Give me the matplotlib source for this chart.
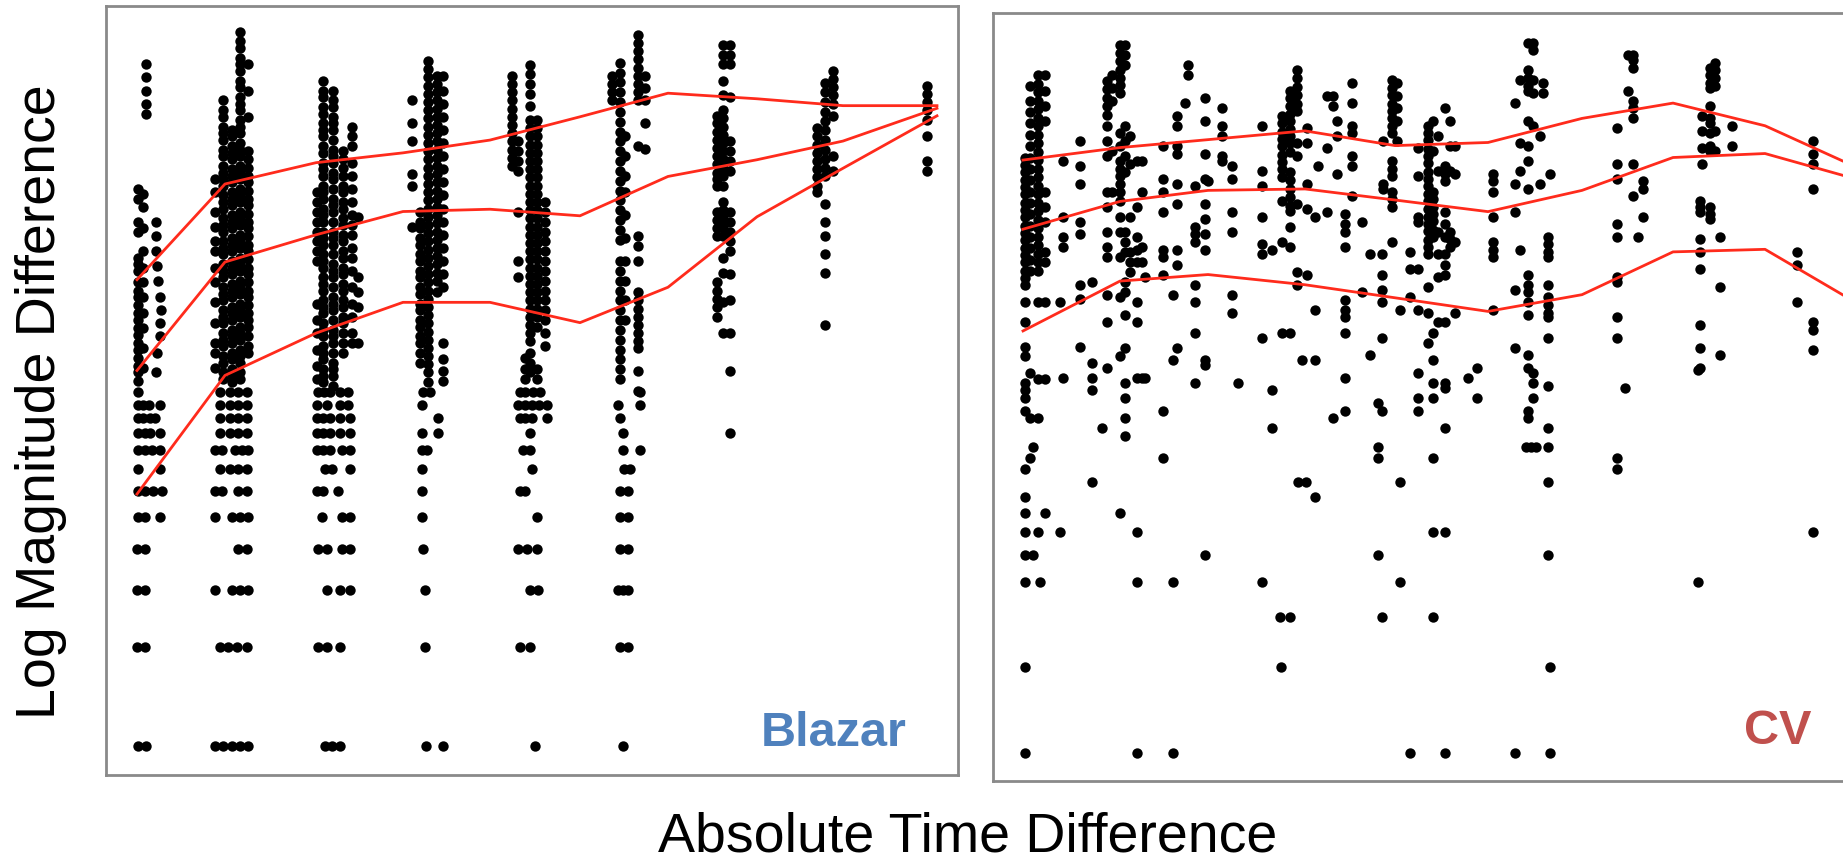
import numpy as np
import matplotlib
matplotlib.use('Agg')
import matplotlib.pyplot as plt

plt.rcParams['font.family'] = ['Liberation Sans', 'DejaVu Sans']

# y values are log10 of the magnitude difference; x is the time difference (arbitrary units)
# quantised rows: (difference in 0.01 mag, x positions of the points on that row)
blazar_rows = [
    (1, [0.32, 0.40, 1.09, 1.17, 1.26, 1.34, 1.42, 2.19, 2.26, 2.34, 3.20, 3.37, 4.29, 5.17]),
    (2, [0.31, 0.39, 1.14, 1.22, 1.31, 1.41, 2.12, 2.21, 2.34, 3.19, 4.14, 4.24, 5.14, 5.22]),
    (3, [0.31, 0.39, 1.09, 1.26, 1.34, 1.42, 2.21, 2.34, 2.44, 3.19, 4.24, 4.32, 5.12, 5.17, 5.22]),
    (4, [0.31, 0.39, 1.32, 1.41, 2.12, 2.21, 2.36, 2.44, 3.17, 4.12, 4.21, 4.31, 5.14, 5.22]),
    (5, [0.32, 0.39, 0.54, 1.09, 1.26, 1.34, 1.42, 2.16, 2.36, 2.44, 3.16, 4.31, 5.14, 5.22]),
    (6, [0.32, 0.39, 0.47, 0.56, 1.09, 1.16, 1.32, 1.41, 2.11, 2.17, 2.32, 3.16, 4.14, 4.19, 5.14, 5.22]),
    (7, [0.32, 0.54, 1.14, 1.24, 1.32, 1.41, 2.19, 2.26, 2.44, 3.16, 4.26, 5.18, 5.24]),
    (8, [0.32, 0.39, 0.46, 0.54, 1.09, 1.16, 1.29, 1.36, 1.42, 2.11, 2.17, 2.24, 2.36, 2.44,
         3.16, 3.21, 4.17, 4.24, 5.17, 5.34]),
    (9, [0.32, 0.39, 0.44, 0.54, 1.14, 1.24, 1.32, 1.41, 2.11, 2.17, 2.24, 2.34, 2.44, 3.16,
         3.32, 4.24, 5.17]),
    (10, [0.32, 0.37, 0.44, 0.49, 1.14, 1.24, 1.32, 1.41, 2.11, 2.17, 2.24, 2.34, 2.44, 3.32,
          4.14, 4.19, 4.26, 4.41, 5.14]),
    (11, [0.32, 0.37, 0.43, 0.54, 1.14, 1.24, 1.32, 1.41, 2.11, 2.21, 2.34, 2.42, 3.16, 4.12,
          4.19, 4.26, 4.33, 4.41, 5.12, 5.34]),
    (12, [0.32, 1.14, 1.24, 1.32, 1.41, 2.12, 2.18, 2.24, 2.34, 2.42, 3.17, 3.24, 4.14, 4.19,
          4.27, 4.34, 5.34]),
]

# upper part: (x, log10 differences of the points stacked at that x)
blazar_stacks = [
    (0.40, [0.08, 0.04, 0.0, -0.04, -0.07]),
    (0.32, [-0.30, -0.33, -0.40, -0.43, -0.51, -0.53, -0.55, -0.585, -0.61, -0.63, -0.655, -0.68,
            -0.70, -0.725, -0.745, -0.77, -0.79, -0.815, -0.84, -0.86, -0.885]),
    (0.37, [-0.315, -0.355, -0.42, -0.49, -0.54, -0.585, -0.63, -0.68, -0.725, -0.785, -0.845]),
    (0.50, [-0.40, -0.445, -0.49, -0.86]),
    (0.51, [-0.535, -0.80]),
    (0.52, [-0.58]),
    (0.54, [-0.63, -0.71, -0.75]),
    (0.55, [-0.67]),
    (1.09, [-0.27, -0.31, -0.37, -0.415, -0.46, -0.49, -0.54, -0.585, -0.645, -0.71, -0.77, -0.80, -0.845]),
    (1.17, [-0.03, -0.06, -0.08, -0.11, -0.13, -0.15, -0.18, -0.20, -0.23, -0.25, -0.27, -0.29,
            -0.32, -0.34, -0.36, -0.39, -0.41, -0.43, -0.46, -0.48, -0.50, -0.53, -0.55, -0.57,
            -0.60, -0.62, -0.64, -0.67, -0.69, -0.71, -0.74, -0.76, -0.78, -0.81, -0.83, -0.86, -0.88]),
    (1.26, [-0.12, -0.14, -0.17, -0.19, -0.21, -0.24, -0.26, -0.28, -0.31, -0.33, -0.35, -0.38,
            -0.40, -0.42, -0.45, -0.47, -0.49, -0.52, -0.54, -0.56, -0.59, -0.61, -0.63, -0.66,
            -0.68, -0.70, -0.73, -0.75, -0.77, -0.80, -0.82, -0.85, -0.87, -0.89]),
    (1.34, [0.18, 0.15, 0.13, 0.10, 0.08, 0.06, 0.03, 0.01, -0.02, -0.04, -0.06, -0.09, -0.11,
            -0.13, -0.16, -0.18, -0.20, -0.23, -0.25, -0.27, -0.30, -0.32, -0.34, -0.37, -0.39,
            -0.41, -0.44, -0.46, -0.48, -0.51, -0.53, -0.55, -0.58, -0.60, -0.62, -0.65, -0.67,
            -0.69, -0.72, -0.74, -0.76, -0.79, -0.81, -0.83, -0.86, -0.88]),
    (1.42, [0.08, 0.0, -0.08, -0.185, -0.21, -0.235, -0.26, -0.28, -0.305, -0.33, -0.35, -0.375,
            -0.40, -0.42, -0.445, -0.47, -0.49, -0.515, -0.54, -0.56, -0.585, -0.61, -0.63,
            -0.655, -0.68, -0.70, -0.72, -0.75, -0.78, -0.80]),
    (2.17, [0.03, 0.0, -0.02, -0.05, -0.07, -0.10, -0.12, -0.14, -0.17, -0.19, -0.22, -0.24,
            -0.26, -0.29, -0.31, -0.33, -0.36, -0.38, -0.40, -0.43, -0.45, -0.47, -0.50, -0.52,
            -0.54, -0.57, -0.59, -0.61, -0.64, -0.66, -0.68, -0.71, -0.73, -0.75, -0.78, -0.80,
            -0.82, -0.85, -0.87, -0.89]),
    (2.27, [0.0, -0.03, -0.05, -0.08, -0.10, -0.12, -0.15, -0.18, -0.20, -0.22, -0.25, -0.27,
            -0.30, -0.33, -0.35, -0.37, -0.40, -0.43, -0.45, -0.47, -0.50, -0.53, -0.55, -0.57,
            -0.60, -0.63, -0.65, -0.67, -0.70, -0.73, -0.75, -0.77, -0.80, -0.83, -0.85, -0.87, -0.90]),
    (2.11, [-0.31, -0.34, -0.37, -0.40, -0.43, -0.46, -0.49, -0.52, -0.65, -0.70, -0.74, -0.79, -0.84, -0.88]),
    (2.37, [-0.185, -0.21, -0.235, -0.26, -0.29, -0.31, -0.34, -0.36, -0.39, -0.41, -0.44, -0.46,
            -0.49, -0.51, -0.54, -0.56, -0.59, -0.61, -0.64, -0.66, -0.69, -0.71, -0.74, -0.77, -0.80]),
    (2.46, [-0.11, -0.14, -0.17, -0.22, -0.26, -0.30, -0.34, -0.38, -0.41, -0.44, -0.48, -0.51,
            -0.55, -0.60, -0.65, -0.69, -0.74, -0.77]),
    (2.52, [-0.385, -0.57, -0.615, -0.66, -0.77]),
    (3.06, [-0.03, -0.10, -0.155, -0.255, -0.29, -0.415]),
    (3.14, [-0.37, -0.40, -0.42, -0.45, -0.47, -0.50, -0.52, -0.55, -0.57, -0.60, -0.62, -0.65,
            -0.67, -0.70, -0.72, -0.75, -0.77, -0.80, -0.83]),
    (3.22, [0.09, 0.065, 0.04, 0.015, -0.01, -0.035, -0.06, -0.085, -0.11, -0.135, -0.16, -0.185,
            -0.21, -0.235, -0.26, -0.285, -0.31, -0.335, -0.36, -0.385, -0.41, -0.435, -0.46,
            -0.485, -0.51, -0.535, -0.56, -0.585, -0.61, -0.635, -0.66, -0.685, -0.71, -0.735,
            -0.76, -0.785, -0.81, -0.835, -0.86, -0.89]),
    (3.31, [0.045, 0.02, -0.005, -0.03, -0.055, -0.08, -0.105, -0.13, -0.155, -0.18, -0.205,
            -0.23, -0.255, -0.28, -0.305, -0.33, -0.355, -0.38, -0.405, -0.43, -0.455, -0.48,
            -0.505, -0.53, -0.555, -0.58, -0.615]),
    (3.37, [0.045, 0.0, -0.04, -0.08, -0.12, -0.16, -0.20, -0.24, -0.28, -0.32, -0.36, -0.40,
            -0.44, -0.48, -0.52, -0.56, -0.60, -0.77, -0.82, -0.855, -0.885]),
    (4.06, [0.045, 0.02, -0.005, -0.03, -0.055, -0.08, -0.105, -0.13, -0.155, -0.18, -0.205, -0.23]),
    (4.12, [-0.155, -0.185, -0.215, -0.245, -0.37, -0.52, -0.57]),
    (4.24, [0.077, 0.05, 0.02, -0.01, -0.046, -0.09, -0.115, -0.14, -0.165, -0.19, -0.215, -0.24,
            -0.265, -0.29, -0.315, -0.34, -0.365, -0.39, -0.415, -0.44, -0.465, -0.49, -0.515,
            -0.54, -0.565, -0.59, -0.615, -0.64, -0.665, -0.69, -0.715, -0.74, -0.765, -0.80,
            -0.83, -0.86]),
    (4.31, [-0.09, -0.115, -0.14, -0.165, -0.19, -0.215, -0.24, -0.265, -0.29, -0.315, -0.34,
            -0.365, -0.39, -0.415, -0.44, -0.465, -0.49, -0.515, -0.54, -0.565, -0.59, -0.615,
            -0.64, -0.665, -0.69, -0.72, -0.85, -0.88]),
    (4.39, [-0.34, -0.37, -0.40, -0.43, -0.46, -0.49, -0.52, -0.55, -0.58, -0.61, -0.64, -0.67,
            -0.70, -0.74, -0.78]),
    (4.19, [-0.815, -0.85, -0.88]),
    (5.06, [0.046, 0.02, -0.005, -0.03]),
    (5.14, [0.085, 0.055, 0.025, -0.005, -0.035, -0.065, -0.095, -0.125, -0.155, -0.185, -0.215,
            -0.245, -0.275, -0.305, -0.335, -0.365, -0.395, -0.425, -0.455, -0.52, -0.55, -0.58,
            -0.61, -0.64, -0.67, -0.70, -0.73, -0.76, -0.79, -0.82, -0.85, -0.88]),
    (5.19, [-0.14, -0.20, -0.26, -0.31, -0.38, -0.45, -0.52, -0.58, -0.64, -0.70]),
    (5.32, [0.17, 0.145, 0.12, 0.095, 0.07, 0.045, 0.02, -0.005, -0.03, -0.17, -0.445, -0.475,
            -0.52, -0.615, -0.64, -0.665, -0.69, -0.715, -0.74, -0.765, -0.785, -0.855, -0.915]),
    (5.39, [0.046, 0.008, -0.03, -0.10, -0.177]),
    (6.11, [-0.077, -0.10, -0.125, -0.15, -0.175, -0.20, -0.225, -0.25, -0.27, -0.29, -0.37,
            -0.395, -0.42, -0.445, -0.585, -0.61, -0.635, -0.66, -0.69]),
    (6.17, [0.14, 0.11, 0.08, 0.03, -0.015, -0.06, -0.085, -0.11, -0.135, -0.16, -0.185, -0.21,
            -0.235, -0.26, -0.29, -0.34, -0.365, -0.39, -0.415, -0.445, -0.51, -0.555, -0.645, -0.74]),
    (6.24, [0.14, 0.11, 0.08, -0.02, -0.155, -0.185, -0.215, -0.245, -0.37, -0.40, -0.43, -0.46,
            -0.49, -0.56, -0.64, -0.74, -0.855, -1.046]),
    (7.11, [-0.115, -0.14, -0.165, -0.19, -0.215, -0.24, -0.265, -0.29, -0.31]),
    (7.19, [0.023, -0.005, -0.035, -0.065, -0.092, -0.12, -0.15, -0.18, -0.21, -0.235, -0.26,
            -0.345, -0.40, -0.445, -0.50, -0.555, -0.715]),
    (7.27, [0.06, 0.035, 0.01, -0.015, -0.04, -0.077, -0.20, -0.245]),
    (8.21, [0.015, -0.01, -0.035, -0.06, -0.09, -0.14, -0.215, -0.245]),
]

blazar_curve_x = [0.31, 1.19, 2.10, 2.97, 3.84, 4.74, 5.62, 6.51, 7.37, 8.31]
blazar_upper = [-0.577, -0.285, -0.22, -0.19, -0.151, -0.08, -0.008, -0.025, -0.046, -0.046]
blazar_median = [-0.854, -0.523, -0.44, -0.369, -0.362, -0.382, -0.262, -0.211, -0.154, -0.054]
blazar_lower = [-1.231, -0.869, -0.74, -0.646, -0.646, -0.708, -0.60, -0.385, -0.237, -0.077]

cv_rows = [
    (1, [0.32, 1.44, 1.80, 4.17, 4.52, 5.22, 5.57]),
    (2, [0.32, 2.88, 5.57]),
    (3, [2.87, 2.97, 3.89, 4.40]),
    (4, [0.32, 0.47, 1.44, 1.80, 2.69, 4.07, 7.05]),
    (5, [0.32, 0.40, 2.12, 3.85, 5.55]),
    (6, [0.32, 0.45, 0.67, 1.44, 4.40, 4.52, 8.20]),
    (7, [0.32, 0.52, 1.27]),
    (8, [0.32, 3.22]),
    (9, [0.99, 3.05, 3.13, 4.07, 5.55]),
    (10, [0.32, 6.24]),
    (11, [0.37, 1.70, 3.85, 4.40, 6.24]),
    (12, [0.40, 3.85, 5.33, 5.38, 5.43, 5.55]),
]

cv_stacks = [
    (0.32, [0.10, 0.075, 0.05, 0.02, -0.005, -0.03, -0.06, -0.085, -0.11, -0.14, -0.165, -0.19,
            -0.22, -0.245, -0.27, -0.30, -0.325, -0.35, -0.41, -0.48, -0.57, -0.60, -0.695,
            -0.72, -0.75, -0.795]),
    (0.37, [0.354, 0.30, 0.26, 0.22, 0.18, 0.14, 0.10, 0.06, 0.02, -0.02, -0.06, -0.10, -0.14,
            -0.18, -0.22, -0.26, -0.30, -0.66, -0.82]),
    (0.45, [0.39, 0.36, 0.33, 0.30, 0.27, 0.24, 0.21, 0.18, 0.15, 0.12, 0.09, 0.06, 0.03, 0.0,
            -0.03, -0.06, -0.09, -0.12, -0.15, -0.18, -0.21, -0.24, -0.27, -0.30, -0.41, -0.68, -0.82]),
    (0.52, [0.39, 0.335, 0.28, 0.23, -0.02, -0.073, -0.126, -0.233, -0.27, -0.41, -0.68]),
    (0.70, [0.087, -0.11, -0.18, -0.215, -0.678]),
    (0.67, [-0.41]),
    (0.87, [0.158, 0.07, 0.007, -0.126, -0.17, -0.35, -0.40, -0.57]),
    (0.99, [-0.34, -0.625, -0.678, -0.72]),
    (1.09, [-0.856]),
    (1.14, [0.37, 0.34, 0.31, 0.28, 0.25, 0.212, 0.158, 0.105, -0.02, -0.073, -0.162, -0.215,
            -0.25, -0.384, -0.482, -0.642]),
    (1.19, [0.39, 0.345, 0.30, 0.123, -0.02]),
    (1.27, [0.496, 0.47, 0.44, 0.41, 0.38, 0.355, 0.327, 0.185, 0.141, 0.087, 0.06, 0.034, 0.007,
            -0.02, -0.055, -0.11, -0.162, -0.25, -0.393, -0.60]),
    (1.32, [0.496, 0.461, 0.425, 0.212, 0.158, 0.105, 0.05, -0.162, -0.197, -0.233, -0.34,
            -0.375, -0.455, -0.571, -0.696, -0.75, -0.82, -0.883]),
    (1.37, [0.176, 0.078, -0.11, -0.233, -0.27, -0.304]),
    (1.44, [0.087, -0.073, -0.18, -0.225, -0.27, -0.411, -0.482, -0.678]),
    (1.49, [0.087, -0.02, -0.215, -0.27, -0.678]),
    (1.52, [-0.322, -0.678]),
    (1.70, [0.141, 0.025, -0.02, -0.091, -0.225, -0.25, -0.313, -0.794]),
    (1.80, [-0.384, -0.616]),
    (1.84, [0.247, 0.212, 0.141, 0.114, 0.007, -0.064, -0.225, -0.278, -0.571]),
    (1.92, [0.292]),
    (1.95, [0.425, 0.39]),
    (2.02, [0.0, -0.144, -0.17, -0.197, -0.349, -0.411, -0.518, -0.696]),
    (2.12, [0.31, 0.23, 0.114, 0.025, -0.064, -0.117, -0.17, -0.225, -0.616, -0.633]),
    (2.15, [0.016]),
    (2.29, [0.274, 0.212, 0.176, 0.105, 0.087]),
    (2.39, [0.069, 0.025, -0.091, -0.162, -0.384, -0.447]),
    (2.45, [-0.696]),
    (2.69, [0.212, 0.052, 0.0, -0.109, -0.206, -0.242, -0.536]),
    (2.79, [-0.225, -0.722, -0.856]),
    (2.89, [0.247, 0.22, 0.19, 0.165, 0.14, 0.11, 0.085, 0.06, 0.03, -0.055, -0.197, -0.518]),
    (2.97, [0.336, 0.31, 0.28, 0.255, 0.23, 0.20, 0.175, 0.15, 0.12, 0.05, 0.02, -0.01, -0.04,
            -0.07, -0.09, -0.144, -0.215, -0.518]),
    (3.04, [0.407, 0.38, 0.35, 0.32, 0.29, 0.265, 0.15, 0.105, -0.064, -0.304, -0.349]),
    (3.09, [-0.616]),
    (3.14, [0.203, 0.15, 0.007, -0.082, -0.313]),
    (3.22, [-0.109, -0.438, -0.616]),
    (3.25, [0.069]),
    (3.34, [0.318, 0.132, -0.091]),
    (3.40, [0.318, 0.283, -0.82]),
    (3.44, [0.23, 0.176, 0.043]),
    (3.52, [-0.10, -0.135, -0.162, -0.215, -0.402, -0.438, -0.464, -0.518, -0.678, -0.794]),
    (3.59, [0.363, 0.292, 0.212, 0.185, 0.105, 0.069, -0.037]),
    (3.69, [-0.126, -0.375]),
    (3.77, [-0.242, -0.598]),
    (3.85, [-0.767]),
    (3.89, [-0.242, -0.313, -0.367, -0.411, -0.536, -0.794]),
    (3.90, [0.158, 0.007, -0.011]),
    (3.99, [0.372, 0.345, 0.32, 0.29, 0.265, 0.24, 0.21, 0.185, 0.087, 0.06, 0.034, -0.02,
            -0.046, -0.073, -0.197]),
    (4.04, [0.363, 0.318, 0.274, 0.23, 0.158]),
    (4.07, [-0.438]),
    (4.17, [-0.233, -0.295, -0.393]),
    (4.25, [0.132, 0.034, -0.109, -0.126, -0.295, -0.438, -0.66, -0.75, -0.794]),
    (4.35, [0.212, 0.185, 0.16, 0.13, 0.105, 0.08, 0.05, 0.025, 0.0, -0.03, -0.055, -0.08,
            -0.11, -0.135, -0.16, -0.19, -0.215, -0.242, -0.358, -0.447, -0.553]),
    (4.40, [0.23, 0.123, -0.02, -0.045, -0.075, -0.10, -0.125, -0.155, -0.18, -0.518, -0.616,
            -0.696, -0.75]),
    (4.45, [0.176, 0.052, -0.162, -0.242, -0.322, -0.482]),
    (4.52, [0.274, 0.069, 0.043, 0.016, -0.091, -0.135, -0.18, -0.242, -0.278, -0.313, -0.482,
            -0.696, -0.714, -0.856]),
    (4.57, [0.23, 0.141, 0.052, -0.162, -0.188, -0.215]),
    (4.62, [0.141, 0.043, -0.197, -0.447]),
    (4.75, [-0.678]),
    (4.84, [-0.642, -0.75]),
    (5.00, [0.043, 0.016, -0.02, -0.109, -0.197, -0.225, -0.25, -0.438]),
    (5.22, [0.292, 0.007, -0.091, -0.367, -0.571]),
    (5.27, [0.372, 0.15, 0.052, -0.225]),
    (5.35, [0.505, 0.407, 0.381, 0.354, 0.336, 0.23, 0.141, 0.087, -0.011, -0.313, -0.349,
            -0.375, -0.411, -0.455, -0.598, -0.642, -0.794, -0.82]),
    (5.40, [0.505, 0.479, 0.372, 0.327, 0.212, -0.66, -0.696, -0.75]),
    (5.47, [0.176, 0.007]),
    (5.50, [0.363, 0.327]),
    (5.55, [-0.18, -0.206, -0.233, -0.25, -0.349, -0.393, -0.42, -0.447, -0.464, -0.536, -0.705, -0.856]),
    (5.57, [0.043]),
    (6.24, [0.203, 0.078, 0.025, -0.135, -0.18, -0.322, -0.34, -0.464, -0.536]),
    (6.32, [-0.714]),
    (6.35, [0.461, 0.336]),
    (6.40, [0.461, 0.443, 0.416, 0.30, 0.274, 0.238, 0.078, -0.037]),
    (6.45, [-0.18]),
    (6.50, [0.016, -0.011, -0.109]),
    (7.05, [-0.651]),
    (7.07, [-0.055, -0.073, -0.091, -0.188, -0.233, -0.295, -0.49, -0.571, -0.642]),
    (7.09, [0.247, 0.194, 0.132, 0.078]),
    (7.17, [0.416, 0.39, 0.363, 0.345, 0.283, 0.238, 0.221, 0.185, 0.141, 0.123, -0.073, -0.10, -0.117]),
    (7.22, [0.434, 0.407, 0.381, 0.354, 0.194, 0.123]),
    (7.27, [-0.18, -0.358, -0.598]),
    (7.39, [0.212, 0.141]),
    (8.04, [-0.233, -0.278, -0.411]),
    (8.20, [0.158, 0.114, 0.078, -0.011, -0.482, -0.509, -0.58]),
]

cv_curve_x = [0.30, 1.27, 2.15, 3.12, 4.02, 4.95, 5.89, 6.80, 7.72, 8.62]
cv_upper = [0.091, 0.135, 0.163, 0.194, 0.142, 0.153, 0.238, 0.292, 0.212, 0.068]
cv_median = [-0.153, -0.055, -0.016, -0.011, -0.05, -0.091, -0.016, 0.10, 0.114, 0.025]
cv_lower = [-0.512, -0.336, -0.313, -0.349, -0.395, -0.443, -0.384, -0.233, -0.224, -0.41]


def collect(rows, stacks):
    xs, ys = [], []
    for n, row_x in rows:
        for x in row_x:
            xs.append(x)
            ys.append(np.log10(n / 100.0))
    for x, col_y in stacks:
        for y in col_y:
            xs.append(x)
            ys.append(y)
    return xs, ys


fig = plt.figure(figsize=(18.43, 8.65), dpi=100)
ax1 = fig.add_axes([0.0575, 0.10405, 0.4623, 0.8890])
ax2 = fig.add_axes([0.5388, 0.09711, 0.4623, 0.8879])

panels = [
    (ax1, blazar_rows, blazar_stacks, blazar_curve_x, [blazar_upper, blazar_median, blazar_lower],
     (-2.088, 0.258), 'Blazar', '#4f81bd', (0.940, 0.038)),
    (ax2, cv_rows, cv_stacks, cv_curve_x, [cv_upper, cv_median, cv_lower],
     (-2.10, 0.61), 'CV', '#c0504d', (0.961, 0.048)),
]

for ax, rows, stacks, cx, curves, ylim, name, color, pos in panels:
    xs, ys = collect(rows, stacks)
    ax.scatter(xs, ys, s=56, color='black', linewidths=0, zorder=2)
    for cy in curves:
        ax.plot(cx, cy, color='#ff2b1c', lw=2.0, zorder=3)
    ax.set_xlim(0, 8.52)
    ax.set_ylim(*ylim)
    ax.set_xticks([])
    ax.set_yticks([])
    for sp in ax.spines.values():
        sp.set_color('#8a8a8a')
        sp.set_linewidth(2)
    ax.text(pos[0], pos[1], name, transform=ax.transAxes, ha='right', va='baseline',
            fontsize=35, fontweight='bold', color=color)

fig.text(41 / 1843, 1 - 402 / 865, 'Log Magnitude Difference', rotation=90,
         ha='center', va='center', fontsize=40)
fig.text(968 / 1843, 2 / 865, 'Absolute Time Difference', ha='center', va='bottom', fontsize=40)

fig.savefig('out.png', dpi=100)
